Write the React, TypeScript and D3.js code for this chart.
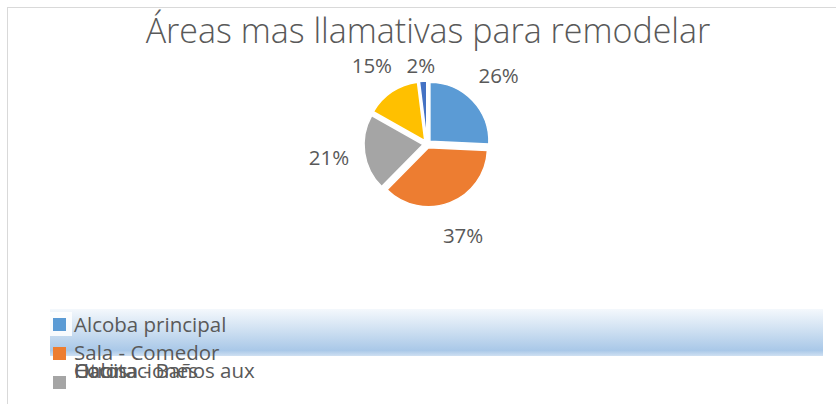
import * as d3 from "d3";

const categories = ["Alcoba principal", "Sala - Comedor", "Habitaciones", "Cocina - Baños aux", "Otros"];
const values = [26, 37, 21, 15, 2];
const colors = ["#5B9BD5", "#ED7D31", "#A5A5A5", "#FFC000", "#4472C4"];
// legend row of each entry (the last three overlap in the original)
const legendRows = [0, 1, 2, 2, 2];

const W = 836;
const H = 404;
const cx = 427;
const cy = 144;
const radius = 59;
const explode = 4;
const labelRadius = 99;
const plotTop = 66; // labels are kept below the title

export default function App() {
  const pie = d3.pie<number>().sort(null).value((d) => d);
  const arcs = pie(values);
  const arc = d3.arc<d3.PieArcDatum<number>>().innerRadius(0).outerRadius(radius);
  const labelArc = d3.arc<d3.PieArcDatum<number>>().innerRadius(labelRadius).outerRadius(labelRadius);
  const total = d3.sum(values);
  const fmt = d3.format(".0%");

  const rowY = d3.scaleLinear().domain([0, 1]).range([318, 347]);
  const textY = [332, 360, 378];

  return (
    <svg width={W} height={H} style={{ position: "absolute", left: 0, top: 0, background: "#fff" }}>
      <defs>
        <linearGradient id="sel" x1="0" y1="0" x2="0" y2="1">
          <stop offset="0%" stopColor="#f4f8fc" />
          <stop offset="40%" stopColor="#d3e3f3" />
          <stop offset="88%" stopColor="#a9c8e8" />
          <stop offset="100%" stopColor="#cfe0f2" />
        </linearGradient>
      </defs>
      <rect x={7.5} y={7.5} width={W + 20} height={H + 20} fill="#fff" stroke="#d9d9d9" strokeWidth={1} />
      <text
        x={428}
        y={43}
        textAnchor="middle"
        fontFamily="'Open Sans', sans-serif"
        fontWeight={300}
        fontSize={34}
        fill="#595959"
      >
        Áreas mas llamativas para remodelar
      </text>
      <g transform={`translate(${cx},${cy})`}>
        {arcs.map((a, i) => {
          const mid = (a.startAngle + a.endAngle) / 2;
          const dx = Math.sin(mid) * explode;
          const dy = -Math.cos(mid) * explode;
          return (
            <path
              key={i}
              d={arc(a) || ""}
              transform={`translate(${dx},${dy})`}
              fill={colors[i]}
              stroke="#fff"
              strokeWidth={1.5}
            />
          );
        })}
        {arcs.map((a, i) => {
          const [lx, ly] = labelArc.centroid(a);
          const y = Math.max(ly, plotTop - cy);
          return (
            <text
              key={i}
              x={lx}
              y={y}
              dy="0.35em"
              textAnchor="middle"
              fontFamily="'Open Sans', sans-serif"
              fontSize={20.5}
              fill="#595959"
            >
              {fmt(values[i] / total)}
            </text>
          );
        })}
      </g>
      <rect x={50} y={309} width={773} height={47} fill="url(#sel)" />
      <rect x={50} y={312} width={22} height={24} fill="#fff" opacity={0.85} />
      <g fontFamily="'Open Sans', sans-serif" fontSize={20.5} fill="#595959">
        {categories
          .map((c, i) => ({ c, i }))
          .reverse()
          .map(({ i }) => (
            <rect
              key={"m" + i}
              x={53}
              y={rowY(legendRows[i])}
              width={13}
              height={13}
              fill={colors[i]}
            />
          ))}
        {categories.map((c, i) => (
          <text key={"t" + i} x={74} y={textY[legendRows[i]]}>
            {c}
          </text>
        ))}
      </g>
    </svg>
  );
}
